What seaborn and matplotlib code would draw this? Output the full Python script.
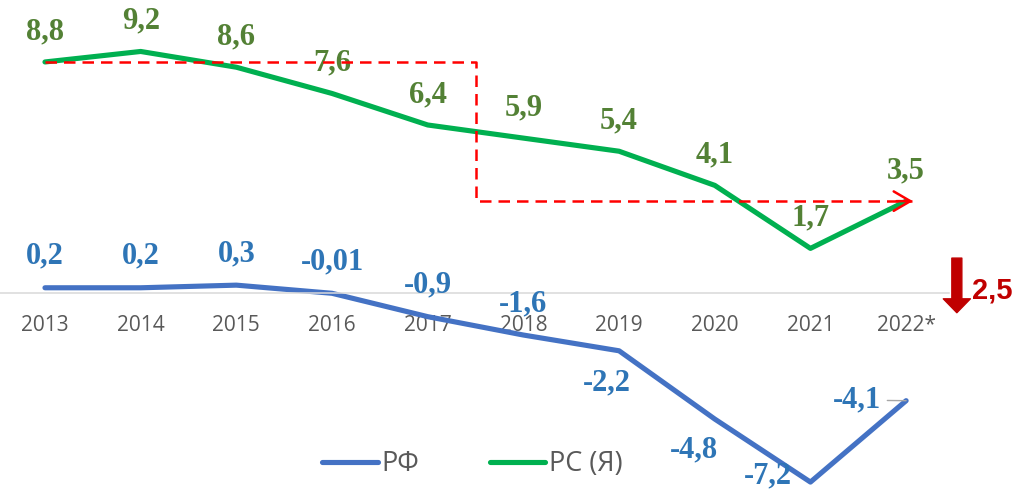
import matplotlib
matplotlib.use('Agg')
import matplotlib.pyplot as plt
import pandas as pd
import seaborn as sns

# chart data
years = ['2013', '2014', '2015', '2016', '2017', '2018', '2019', '2020', '2021', '2022*']
rf = [0.2, 0.2, 0.3, -0.01, -0.9, -1.6, -2.2, -4.8, -7.2, -4.1]
rs = [8.8, 9.2, 8.6, 7.6, 6.4, 5.9, 5.4, 4.1, 1.7, 3.5]
rf_labels = ['0,2', '0,2', '0,3', '-0,01', '-0,9', '-1,6', '-2,2', '-4,8', '-7,2', '-4,1']
rs_labels = ['8,8', '9,2', '8,6', '7,6', '6,4', '5,9', '5,4', '4,1', '1,7', '3,5']
series_names = ['РФ', 'РС (Я)']
gap_label = '2,5'

# colours
blue, green = '#4472C4', '#00B050'
blue_txt, green_txt = '#2E75B6', '#538135'
grey_txt = '#595959'

sns.set_style('white')
plt.rcParams['font.family'] = ['Open Sans', 'DejaVu Sans']

fig = plt.figure(figsize=(10.2, 4.91), dpi=100)
ax = fig.add_axes([0, 0, 1, 1])

df = pd.DataFrame({
    'pos': list(range(len(years))) * 2,
    'value': rf + rs,
    'series': [series_names[0]] * len(years) + [series_names[1]] * len(years),
})
sns.lineplot(data=df, x='pos', y='value', hue='series', hue_order=series_names,
             palette=[blue, green], linewidth=3.7, solid_capstyle='round', ax=ax)

# pixel mapping: 2013 at x=45px, step ~95.7px; zero at y=293px, 26.25px per unit
ax.set_xlim(-0.47, 10.19)
ax.set_ylim(-7.54, 11.16)

# data labels (offsets in pixels, baseline)
rs_off = [(0, 23)] * len(rs)
rf_off = [(0, 24)] * 6 + [(-12, -40), (-21, -38), (-43, -1), (-49, -7)]
for i, (v, t) in enumerate(zip(rs, rs_labels)):
    ax.annotate(t, (i, v), xytext=rs_off[i], textcoords='offset pixels',
                ha='center', va='baseline', color=green_txt, fontsize=22,
                fontweight='bold', family='Liberation Serif')
for i, (v, t) in enumerate(zip(rf, rf_labels)):
    kw = {}
    if i == len(rf) - 1:
        kw['arrowprops'] = dict(arrowstyle='-', color='#A6A6A6', lw=1,
                                shrinkA=2, shrinkB=0)
    ax.annotate(t, (i, v), xytext=rf_off[i], textcoords='offset pixels',
                ha='center', va='baseline', color=blue_txt, fontsize=22,
                fontweight='bold', family='Liberation Serif', **kw)

# red dashed path 2013 level -> 2022* level
ax.plot([0, 4.5, 4.5, 9.06], [rs[0], rs[0], rs[-1], rs[-1]], color='#FF0000',
        lw=1.8, dashes=(4.6, 2.8), zorder=5)
ax.annotate('', xy=(9.07, rs[-1]), xytext=(8.9, rs[-1]),
            arrowprops=dict(arrowstyle='->,head_length=1.2,head_width=0.7',
                            color='#FF0000', lw=1.8, mutation_scale=10,
                            shrinkA=0, shrinkB=0), zorder=5)

# dark red down arrow with gap value
ax.annotate('', xy=(9.53, -0.75), xytext=(9.53, 1.33),
            arrowprops=dict(arrowstyle='simple,head_length=1.0,head_width=1.95,tail_width=0.72',
                            color='#C00000', mutation_scale=10, shrinkA=0, shrinkB=0))
ax.text(9.69, -0.19, gap_label, ha='left', va='baseline', color='#C00000',
        fontsize=21, fontweight='bold', family='Liberation Sans')

# category axis at zero
for s in ['left', 'top', 'right']:
    ax.spines[s].set_visible(False)
ax.spines['bottom'].set_position(('data', 0))
ax.spines['bottom'].set_color('#D9D9D9')
ax.spines['bottom'].set_linewidth(1.1)
ax.spines['bottom'].set_bounds(-0.5, 9.45)
ax.set_xticks(range(len(years)))
ax.set_xticklabels(years)
ax.tick_params(axis='x', length=0, pad=16, labelsize=15, labelcolor=grey_txt)
ax.set_yticks([])
ax.set_xlabel('')
ax.set_ylabel('')

sns.move_legend(ax, 'center left', bbox_to_anchor=(322 / 1020, 1 - 464 / 491),
                bbox_transform=fig.transFigure, ncol=2, frameon=False, title=None,
                fontsize=19.5, handlelength=2.05, handletextpad=0.15,
                columnspacing=2.6, borderpad=0, borderaxespad=0,
                labelcolor=grey_txt)

fig.savefig('out.png', dpi=100)
